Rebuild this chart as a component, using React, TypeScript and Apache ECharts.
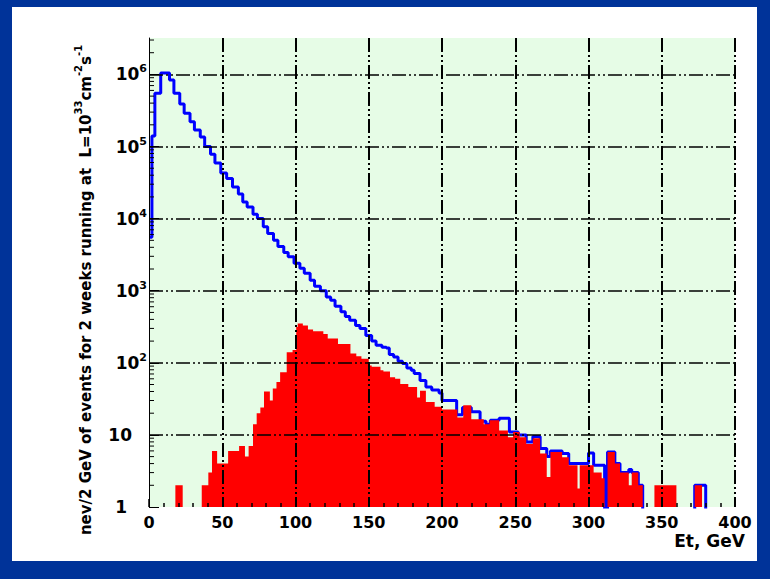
import React, { useEffect, useRef } from "react";
import * as echarts from "echarts";

// Red histogram (signal): bin edges (GeV) and counts per bin
const redEdges = [18, 23, 36, 40.5, 43, 46.5, 54, 61.5, 65.5, 68, 71, 73.5, 76, 78.5, 82.5, 84.5, 87, 89.5, 94, 98, 100.5, 101.5, 105, 108.5, 112, 119, 122, 129, 137.5, 141.5, 145, 150, 152, 158, 160, 164.5, 168, 171.5, 177, 183, 185, 189, 195, 200, 210.5, 214.5, 220, 228.5, 232.5, 239, 245, 248.5, 253, 257.5, 262, 267, 271.5, 274, 282, 286.5, 292.5, 294, 303.5, 309, 311, 313, 318, 321.5, 327.5, 329.5, 334, 337, 345, 360, 372.5, 377.5];
const redCounts = [2, 0, 2, 3, 6, 4, 6, 7, 5, 7, 14, 20, 24, 40, 30, 44, 54, 74, 140, 150, 315, 350, 330, 290, 275, 250, 217, 183, 135, 123, 114, 92, 88, 79, 76, 63, 60, 51, 46, 33, 41, 28.5, 24.5, 22.5, 17.5, 25.7, 16.5, 14, 16, 11.5, 9.3, 11, 9.3, 7.5, 9, 5.5, 2.6, 5.8, 4.9, 3.8, 1.8, 3.8, 3.0, 2.5, 0, 5.8, 4, 3, 2, 3, 2, 0, 2, 0, 2];

// Blue histogram (total): left bin edges, values, and the last right edge
const blueEdges = [0, 2, 4, 8, 14, 17, 21, 24, 28, 31, 35, 38, 42, 45, 49, 53, 57, 61, 64, 67, 71, 74, 78, 81, 85, 88, 92, 95, 99, 103, 106, 110, 113, 117, 121, 124, 127, 131, 134, 137, 141, 144, 148, 152, 155, 159, 162, 164, 167, 170, 173, 176, 179, 181, 185, 189, 193, 198, 200, 210, 214, 220, 226, 230, 233, 239, 246, 252, 257.5, 262, 267, 271.5, 274, 282, 286.5, 294, 300, 303.5, 309, 311, 313, 318, 321.5, 327.5, 329.5, 334, 337, 345, 360, 372.5];
const blueVals = [5500, 140000, 550000, 1050000, 840000, 550000, 390000, 290000, 220000, 170000, 135000, 100000, 78000, 59000, 43000, 36000, 27500, 22000, 17000, 14500, 11500, 10000, 7700, 6200, 5000, 4100, 3400, 2950, 2400, 2050, 1750, 1400, 1150, 1000, 820, 740, 610, 510, 440, 390, 330, 300, 240, 200, 175, 165, 160, 130, 120, 105, 98, 85, 79, 71, 57, 46, 42, 38, 30, 19, 24, 21, 15.5, 14, 16, 17, 11, 10, 8, 9.5, 6.5, 5, 6, 5.5, 4, 4, 5.6, 3.8, 3.8, 0.5, 5.8, 4, 3, 3.3, 3, 2, 0.5, 0.5, 0.5, 2];
const blueLastEdge = 380;

// Axis settings
const xMin = 0;
const xMax = 400;
const xInterval = 50;
const yMin = 1;
const yMax = 3.2e6;
const minorMultipliers = [2, 3, 4, 5, 6, 7, 8, 9];
const decades = [1, 10, 100, 1000, 10000, 100000, 1000000];

const yTitle = "{t|nev/2 GeV of events for 2 weeks running at  L=10}{u|33}{t|cm}{u|-2}{t|s}{u|-1}";
const xTitle = "Et, GeV";

const FONT = "DejaVu Sans";

export default function App() {
  const ref = useRef<HTMLDivElement>(null);
  useEffect(() => {
    const chart = echarts.init(ref.current!, null, { renderer: "svg" });

    // red step outline: empty bins sit on the axis floor (yMin)
    const redData = redCounts.map((c, i) => [redEdges[i], c > 0 ? c : yMin]);
    redData.push([redEdges[redEdges.length - 1], yMin]);
    const blueData = blueEdges.map((x, i) => [x, blueVals[i]]);
    blueData.push([blueLastEdge, 0.5]);

    const minorData: number[][] = [];
    decades.forEach((d) =>
      minorMultipliers.forEach((m) => {
        const v = d * m;
        if (v < yMax) minorData.push([0, v]);
      })
    );

    const dash = [14, 3, 2, 3, 2, 3];

    chart.setOption({
      animation: false,
      backgroundColor: "#ffffff",
      grid: {
        left: 137,
        right: 22,
        top: 31,
        bottom: 54,
        show: true,
        backgroundColor: "#e6fce6",
        borderWidth: 0,
      },
      xAxis: {
        type: "value",
        min: xMin,
        max: xMax,
        interval: xInterval,
        z: 5,
        axisLine: { show: false },
        axisTick: { show: true, inside: true, length: 8, lineStyle: { color: "#000", width: 1.5 } },
        minorTick: { show: true, splitNumber: 5, length: 4, lineStyle: { color: "#000", width: 1.5 } },
        axisLabel: {
          color: "#000",
          fontFamily: FONT,
          fontWeight: "bold",
          fontSize: 16,
          margin: 7,
        },
        splitLine: {
          show: true,
          showMinLine: false,
          lineStyle: { color: "#000", width: 2, type: dash },
        },
      },
      yAxis: {
        type: "log",
        logBase: 10,
        min: yMin,
        max: yMax,
        splitNumber: 6,
        z: 5,
        axisLine: { show: true, lineStyle: { color: "#000", width: 1 } },
        axisTick: { show: true, inside: true, length: 10, lineStyle: { color: "#000", width: 1 } },
        axisLabel: {
          showMaxLabel: false,
          margin: 2,
          color: "#000",
          formatter: (v: number) => {
            const e = Math.round(Math.log10(v));
            if (e === 0) return "{b|1}{p1|}";
            if (e === 1) return "{b|10}{p2|}";
            return "{b|10}{s|" + e + "}";
          },
          rich: {
            b: { fontFamily: FONT, fontWeight: "bold", fontSize: 17, lineHeight: 22, color: "#000" },
            s: { fontFamily: FONT, fontWeight: "bold", fontSize: 11, lineHeight: 22, verticalAlign: "top", color: "#000" },
            p1: { width: 20 },
            p2: { width: 15 },
          },
        },
        splitLine: {
          show: true,
          showMinLine: false,
          showMaxLine: false,
          lineStyle: { color: "#000", width: 1.5, type: dash },
        },
      },
      graphic: [
        {
          type: "text",
          x: 71,
          y: 283,
          rotation: Math.PI / 2,
          style: {
            text: yTitle,
            align: "center",
            verticalAlign: "middle",
            rich: {
              t: { fontFamily: FONT, fontWeight: "bold", fontSize: 15, lineHeight: 20, fill: "#000", verticalAlign: "bottom" },
              u: { fontFamily: FONT, fontWeight: "bold", fontSize: 10, lineHeight: 20, fill: "#000", verticalAlign: "top" },
            },
          },
        },
        {
          type: "text",
          x: 733,
          y: 525,
          style: {
            text: xTitle,
            align: "right",
            verticalAlign: "top",
            fontFamily: FONT,
            fontWeight: "bold",
            fontSize: 17,
            fill: "#000",
          },
        },
      ],
      series: [
        {
          type: "line",
          name: "total",
          z: 1,
          step: "end",
          symbol: "none",
          clip: true,
          data: blueData,
          lineStyle: { color: "#0000ff", width: 3 },
        },
        {
          type: "line",
          name: "signal",
          z: 3,
          step: "end",
          symbol: "none",
          clip: true,
          data: redData,
          lineStyle: { width: 0, color: "#ff0000" },
          areaStyle: { color: "#ff0000", opacity: 1, origin: "start" },
        },
        {
          type: "custom",
          name: "minor",
          z: 6,
          encode: { x: 0, y: 1 },
          data: minorData,
          renderItem: (params: any, api: any) => {
            const p = api.coord([api.value(0), api.value(1)]);
            return {
              type: "line",
              shape: { x1: p[0], y1: p[1], x2: p[0] + 5, y2: p[1] },
              style: { stroke: "#000", lineWidth: 1 },
            };
          },
        },
      ],
    });
    return () => chart.dispose();
  }, []);

  return (
    <div style={{ position: "fixed", left: 0, top: 0, width: 770, height: 579, background: "#003399" }}>
      <div
        ref={ref}
        style={{ position: "absolute", left: 12, top: 7, width: 745, height: 554, background: "#ffffff" }}
      />
    </div>
  );
}
